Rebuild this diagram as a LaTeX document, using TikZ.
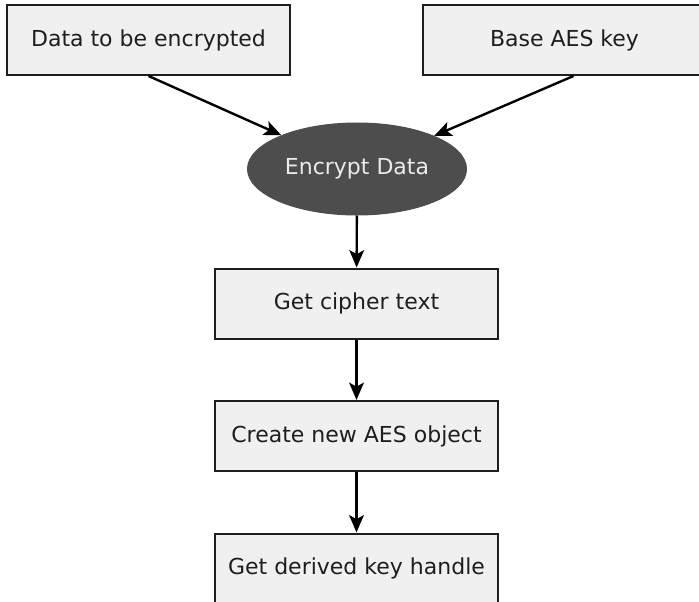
\documentclass[tikz,border=0pt]{standalone}
\usepackage{fontspec}
\setmainfont{DejaVu Sans}
\usetikzlibrary{shapes.geometric,arrows.meta}

\tikzset{every picture/.style={line width=0.75pt}}
\tikzset{
  stepbox/.style={draw={rgb, 255:red, 30; green, 30; blue, 30 }, line width=1.5pt, fill={rgb, 255:red, 240; green, 240; blue, 240 }, minimum width=212.25pt, minimum height=52.5pt, inner sep=0.75pt, text={rgb, 255:red, 30; green, 30; blue, 30 }, font=\fontsize{16.5}{19}\selectfont},
  actionnode/.style={ellipse, draw={rgb, 255:red, 77; green, 77; blue, 77 }, fill={rgb, 255:red, 77; green, 77; blue, 77 }, minimum width=164.25pt, minimum height=69pt, inner sep=0.75pt, text={rgb, 255:red, 235; green, 235; blue, 235 }, font=\fontsize{16.5}{19}\selectfont},
  flowarrow/.style={draw={rgb, 255:red, 0; green, 0; blue, 0 }, line width=1.8pt, -{Stealth[length=13pt,width=11pt,inset=3pt]}}
}

\begin{document}
\begin{tikzpicture}[x=0.75pt,y=0.75pt,yscale=-1,xscale=1]
    %set diagram left start at 0, and has height of 602
    \useasboundingbox (0,0) rectangle (699,602);

    % Text Node
    \node [stepbox] (data) at (148.5,40) {Data to be encrypted};
    % Text Node
    \node [stepbox] (basekey) at (564.5,40) {Base AES key};
    % Text Node
    \node [actionnode] (encrypt) at (357,169) {Encrypt Data};
    % Text Node
    \node [stepbox] (cipher) at (356.5,303.5) {Get cipher text};
    % Text Node
    \node [stepbox] (aesobj) at (356.5,436) {Create new AES object};
    % Text Node
    \node [stepbox] (derived) at (356.5,568.5) {Get derived key handle};

    %Straight Lines
    \draw [flowarrow] (data.south) -- (encrypt);
    %Straight Lines
    \draw [flowarrow] ([xshift=6.75pt]basekey.south) -- (encrypt);
    %Straight Lines
    \draw [flowarrow] (encrypt) -- (cipher);
    %Straight Lines
    \draw [flowarrow] (cipher) -- (aesobj);
    %Straight Lines
    \draw [flowarrow] (aesobj) -- (derived);

\end{tikzpicture}
\end{document}
